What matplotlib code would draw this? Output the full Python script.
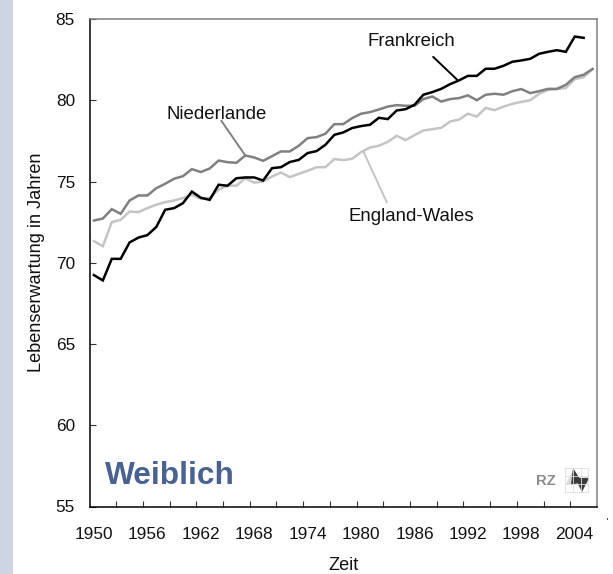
import matplotlib
matplotlib.use("Agg")
import matplotlib.pyplot as plt
from matplotlib.patches import Rectangle, Polygon
from matplotlib.lines import Line2D
import numpy as np

plt.rcParams['font.family'] = ['Liberation Sans', 'DejaVu Sans']

years_fr = list(range(1950, 2006))
years_long = list(range(1950, 2007))

frankreich = [69.24, 68.91, 70.24, 70.24, 71.25, 71.55, 71.7, 72.2, 73.26, 73.36, 73.67, 74.38, 74.0, 73.87,
              74.8, 74.74, 75.2, 75.25, 75.25, 75.06, 75.82, 75.88, 76.2, 76.33, 76.75, 76.87, 77.26, 77.87,
              78.02, 78.29, 78.41, 78.49, 78.92, 78.84, 79.37, 79.45, 79.72, 80.34, 80.5, 80.7, 80.99, 81.22,
              81.5, 81.5, 81.94, 81.94, 82.12, 82.37, 82.45, 82.55, 82.86, 82.98, 83.08, 82.98, 83.92, 83.84]
niederlande = [72.6, 72.72, 73.3, 73.01, 73.83, 74.14, 74.14, 74.59, 74.86, 75.17, 75.33, 75.76, 75.58, 75.8,
               76.29, 76.19, 76.15, 76.6, 76.48, 76.27, 76.56, 76.85, 76.85, 77.2, 77.67, 77.73, 77.94, 78.53,
               78.53, 78.9, 79.17, 79.27, 79.43, 79.61, 79.7, 79.66, 79.66, 80.07, 80.23, 79.92, 80.07, 80.13,
               80.3, 80.0, 80.34, 80.4, 80.34, 80.56, 80.69, 80.44, 80.56, 80.7, 80.7, 80.95, 81.42, 81.57, 81.92]
england_wales = [71.33, 71.02, 72.5, 72.64, 73.15, 73.12, 73.36, 73.57, 73.73, 73.83, 73.98, 74.18, 73.94, 74.0,
                 74.5, 74.75, 74.74, 75.2, 74.93, 75.0, 75.31, 75.55, 75.27, 75.47, 75.66, 75.88, 75.88, 76.38,
                 76.32, 76.4, 76.81, 77.09, 77.2, 77.44, 77.81, 77.55, 77.85, 78.14, 78.22, 78.3, 78.69, 78.81,
                 79.17, 79.0, 79.53, 79.39, 79.61, 79.78, 79.9, 80.0, 80.4, 80.64, 80.69, 80.75, 81.3, 81.42, 81.92]

y_ticks = [55, 60, 65, 70, 75, 80, 85]
x_label_years = list(range(1950, 2005, 6))

W, H = 613, 574
fig = plt.figure(figsize=(W / 100, H / 100), dpi=100, facecolor='white')
ax = fig.add_axes([89.5 / W, 1 - 506.5 / H, (597 - 89.5) / W, (506.5 - 19) / H])

C_EW, C_NL, C_FR = '#C4C4C4', '#808080', '#000000'
ax.plot(years_long, england_wales, color=C_EW, lw=1.8, solid_joinstyle='miter', zorder=2)
ax.plot(years_long, niederlande, color=C_NL, lw=1.8, solid_joinstyle='miter', zorder=3)
ax.plot(years_fr, frankreich, color=C_FR, lw=1.8, solid_joinstyle='miter', zorder=4)

ax.set_xlim(1949.5, 2006.5)
ax.set_ylim(55, 85)
ax.set_yticks(y_ticks)
ax.set_xticks(np.arange(1952.5, 2006, 3))
ax.set_xticklabels([])
ax.set_xticks(x_label_years, minor=True)
ax.set_xticklabels([str(y) for y in x_label_years], minor=True)
ax.tick_params(axis='x', which='major', direction='in', length=4.5, width=0.8, color='#333333')
ax.tick_params(axis='x', which='minor', length=0, pad=14.5, labelsize=12.4, labelcolor='#111111')
ax.tick_params(axis='y', direction='in', length=4.5, width=0.8, color='#333333', pad=10.5,
               labelsize=12.4, labelcolor='#111111')
for side, col, lw in [('left', '#000000', 1.1), ('bottom', '#000000', 1.1),
                      ('right', '#808080', 1.1), ('top', '#808080', 1.1)]:
    ax.spines[side].set_color(col)
    ax.spines[side].set_linewidth(lw)

ax.set_ylabel('Lebenserwartung in Jahren', fontsize=13.1, color='#111111', va='center')
ax.yaxis.set_label_coords((36 - 89.5) / (597 - 89.5), 0.5)
ax.set_xlabel('Zeit', fontsize=13.1, color='#111111', va='center')
ax.xaxis.set_label_coords(0.5, -(565 - 506.5) / (506.5 - 19))

def leader(text, tpos, start, end, col):
    ax.text(*tpos, text, ha='center', va='center', fontsize=13.4, color='#111111', zorder=6)
    ax.annotate('', xy=end, xytext=start,
                arrowprops=dict(arrowstyle='-', color=col, lw=1.4, shrinkA=0, shrinkB=0), zorder=5)

leader('Niederlande', (1963.75, 79.1), (1964.3, 78.74), (1967.0, 76.6), C_NL)
leader('Frankreich', (1985.7, 83.63), (1988.1, 82.67), (1990.8, 81.26), C_FR)
leader('England-Wales', (1985.6, 72.83), (1982.9, 73.71), (1980.26, 76.85), C_EW)

ax.text(1951.25, 56.9, 'Weiblich', fontsize=22.8, fontweight='bold', color='#4A628F',
        ha='left', va='center', zorder=6)

def P(x, y):
    return (x / W, 1 - y / H)
fig.patches.append(Rectangle((0, 0), 13 / W, 1, transform=fig.transFigure, color='#CDD5E5', lw=0, zorder=0))
fig.text(*P(546, 481), 'RZ', fontsize=10.6, fontweight='bold', color='#8C8C8C', ha='center', va='center')
for gx in [565, 573, 581, 588]:
    fig.add_artist(Line2D([gx / W, gx / W], [1 - 468 / H, 1 - 492 / H], color='#DDDDDD', lw=0.6))
for gy in [468, 476, 484, 492]:
    fig.add_artist(Line2D([565 / W, 588 / W], [1 - gy / H, 1 - gy / H], color='#DDDDDD', lw=0.6))
fig.add_artist(Polygon([P(566, 484), P(573, 470), P(573, 484)], closed=True, color='#D8D8D8', lw=0,
                       transform=fig.transFigure))
fig.add_artist(Polygon([P(573, 476), P(588, 476), P(588, 484), P(573, 484)], closed=True, color='#E2E2E2', lw=0,
                       transform=fig.transFigure))
fig.add_artist(Polygon([P(571, 485), P(573, 468), P(582, 482)], closed=True, color='#3A3A3A', lw=0,
                       transform=fig.transFigure))
fig.add_artist(Polygon([P(575, 478), P(589, 478), P(582, 492)], closed=True, color='#3A3A3A', lw=0,
                       transform=fig.transFigure))
fig.add_artist(Rectangle(P(607, 520), 1 / W, 2 / H, color='#555555', lw=0, transform=fig.transFigure))

fig.savefig('out.png', dpi=100, facecolor='white')
